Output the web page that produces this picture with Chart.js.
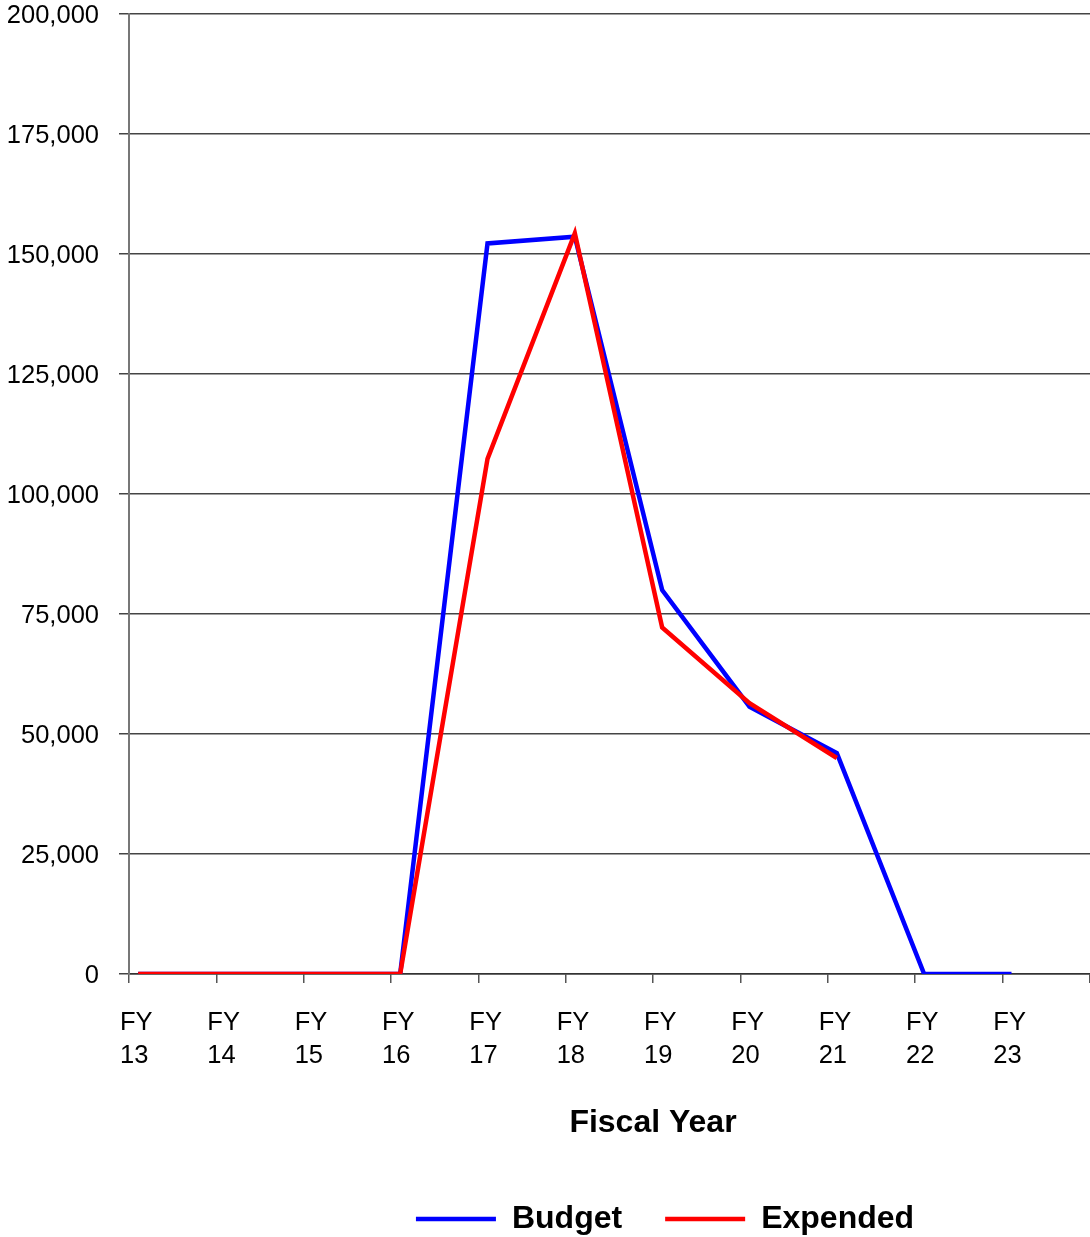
<!DOCTYPE html>
<html>
<head>
<meta charset="utf-8">
<title>Budget vs Expended by Fiscal Year</title>
<script src="https://cdn.jsdelivr.net/npm/chart.js@4"></script>
<style>
  html, body { margin: 0; padding: 0; background: #ffffff; overflow: hidden; }
  #wrap { width: 1330px; height: 1237px; }
</style>
</head>
<body>
<div id="wrap"><canvas id="chart" width="1330" height="1237"></canvas></div>
<script>
// Fiscal years on the category axis
const fiscalYears = ['FY 13', 'FY 14', 'FY 15', 'FY 16', 'FY 17', 'FY 18', 'FY 19', 'FY 20', 'FY 21', 'FY 22', 'FY 23'];

// Dollar amounts per fiscal year
const budget   = [0, 0, 0, 0, 152200, 153600, 80000, 55700, 46000, 0, 0];
const expended = [0, 0, 0, 0, 107300, 154300, 72200, 56400, 45000, null, null];

// Value axis ticks
const yMin = 0;
const yMax = 200000;
const yStep = 25000;

// Each year's value sits a little to the right of its tick mark
const pointShift = 0.105;

const FONT = "'Liberation Sans', Arial, Helvetica, sans-serif";

const toPoints = values => values.map((v, i) => ({ x: i + pointShift, y: v }));

new Chart(document.getElementById('chart'), {
  type: 'line',
  data: {
    datasets: [
      {
        label: 'Budget',
        data: toPoints(budget),
        borderColor: '#0000ff',
        backgroundColor: '#0000ff',
        borderWidth: 4.5,
        pointRadius: 0,
        tension: 0,
        fill: false,
        order: 1
      },
      {
        label: 'Expended',
        data: toPoints(expended),
        borderColor: '#ff0000',
        backgroundColor: '#ff0000',
        borderWidth: 4.5,
        pointRadius: 0,
        tension: 0,
        fill: false,
        order: 0
      }
    ]
  },
  options: {
    responsive: false,
    animation: false,
    devicePixelRatio: 1,
    layout: { padding: { top: 14, right: 0, bottom: -8, left: 0 } },
    plugins: {
      tooltip: { enabled: false },
      legend: {
        position: 'bottom',
        labels: {
          usePointStyle: true,
          pointStyle: 'line',
          pointStyleWidth: 80,
          padding: 43,
          color: '#000000',
          font: { family: FONT, size: 32, weight: 'bold' },
          sort: (a, b) => a.datasetIndex - b.datasetIndex
        }
      }
    },
    scales: {
      x: {
        type: 'linear',
        min: 0,
        max: 12,
        afterFit: scale => { scale.height = 186; },
        ticks: {
          stepSize: 1,
          autoSkip: false,
          maxRotation: 0,
          minRotation: 0,
          align: 'start',
          labelOffset: -9,
          padding: 23,
          color: '#000000',
          font: { family: FONT, size: 25.5, lineHeight: 1.3 },
          callback: value => {
            const label = Number.isInteger(value) ? fiscalYears[value] : undefined;
            return label ? label.split(' ') : '';
          }
        },
        grid: {
          drawOnChartArea: false,
          drawTicks: true,
          tickLength: 9,
          color: '#555555',
          lineWidth: 1.5
        },
        border: { display: true, color: '#333333', width: 1.5 },
        title: {
          display: true,
          text: 'Fiscal Year',
          color: '#000000',
          font: { family: FONT, size: 32, weight: 'bold' },
          padding: { top: 0, bottom: 18 }
        }
      },
      y: {
        type: 'linear',
        min: yMin,
        max: yMax,
        afterFit: scale => {
          scale.width = 129;
          scale.paddingTop = 0;
          scale.paddingBottom = 0;
        },
        ticks: {
          stepSize: yStep,
          padding: 20,
          labelOffset: 2,
          color: '#000000',
          font: { family: FONT, size: 25.5, lineHeight: 1.1 },
          callback: value => value.toLocaleString('en-US')
        },
        grid: {
          color: '#444444',
          lineWidth: 1.5,
          tickLength: 10
        },
        border: { display: true, color: '#777777', width: 2 }
      },
      // empty gutter to the right of the plot
      gutter: {
        type: 'linear',
        position: 'right',
        display: true,
        afterFit: scale => { scale.width = 153; },
        ticks: { display: false },
        grid: { display: false },
        border: { display: false }
      }
    }
  }
});
</script>
</body>
</html>
